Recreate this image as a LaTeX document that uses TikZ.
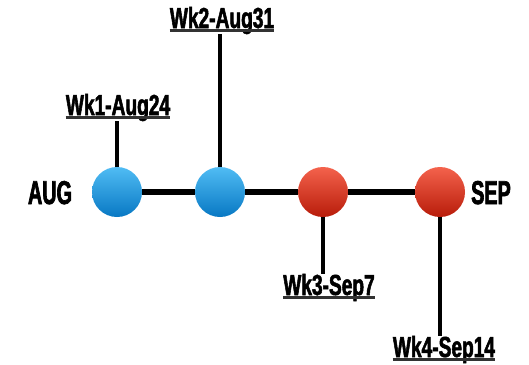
\documentclass[tikz,border=0pt]{standalone}
\usepackage{fontspec}
% condensed, emboldened lettering for the labels
\newfontfamily\wkfont{Liberation Sans Bold}[FakeBold=1.8, FakeStretch=0.66]
\newfontfamily\monthfont{Liberation Sans Bold}[FakeBold=2, FakeStretch=0.6]
\begin{document}
\begin{tikzpicture}[x=1pt,y=-1pt,
  dot/.style={circle, minimum size=50pt, inner sep=0pt},
  bluedot/.style={dot, top color={rgb,255:red,80;green,188;blue,244}, bottom color={rgb,255:red,8;green,120;blue,195}},
  reddot/.style={dot, top color={rgb,255:red,244;green,98;blue,76}, bottom color={rgb,255:red,184;green,28;blue,10}},
  wk/.style={font=\wkfont\fontsize{29}{29}\selectfont, anchor=base, inner sep=0pt},
  month/.style={font=\monthfont\fontsize{33}{33}\selectfont, anchor=base, inner sep=0pt},
  stem/.style={line width=4pt},
  axis/.style={line width=6pt},
  uline/.style={line width=2.5pt, draw={rgb,255:red,50;green,50;blue,50}}]
\useasboundingbox (0,0) rectangle (529,364);

% month markers
\node[month] (aug) at (50,204) {AUG};
\node[month] (sep) at (491,204) {SEP};

% weekly dots on the axis
\node[bluedot] (b1) at (117,192) {};
\node[bluedot] (b2) at (220,192) {};
\node[reddot]  (r1) at (323,192) {};
\node[reddot]  (r2) at (440,192) {};

% week labels
\node[wk] (l1) at (118,115) {Wk1-Aug24};
\node[wk] (l2) at (222,28)  {Wk2-Aug31};
\node[wk] (l3) at (329,295) {Wk3-Sep7};
\node[wk] (l4) at (444,357) {Wk4-Sep14};

\foreach \l in {l1,l2,l3,l4}
  \draw[uline] ([yshift=-2.5pt]\l.base west) -- ([yshift=-2.5pt]\l.base east);

% axis segments between the dots
\draw[axis] (b1.east) -- (b2.west);
\draw[axis] (b2.east) -- (r1.west);
\draw[axis] (r1.east) -- (r2.west);

% stems from dots to labels
\draw[stem] (b1.north) -- (b1.north |- l1.south);
\draw[stem] (b2.north) -- (b2.north |- l2.south);
\draw[stem] (r1.south) -- (r1.south |- l3.north);
\draw[stem] (r2.south) -- (r2.south |- l4.north);
\end{tikzpicture}
\end{document}
